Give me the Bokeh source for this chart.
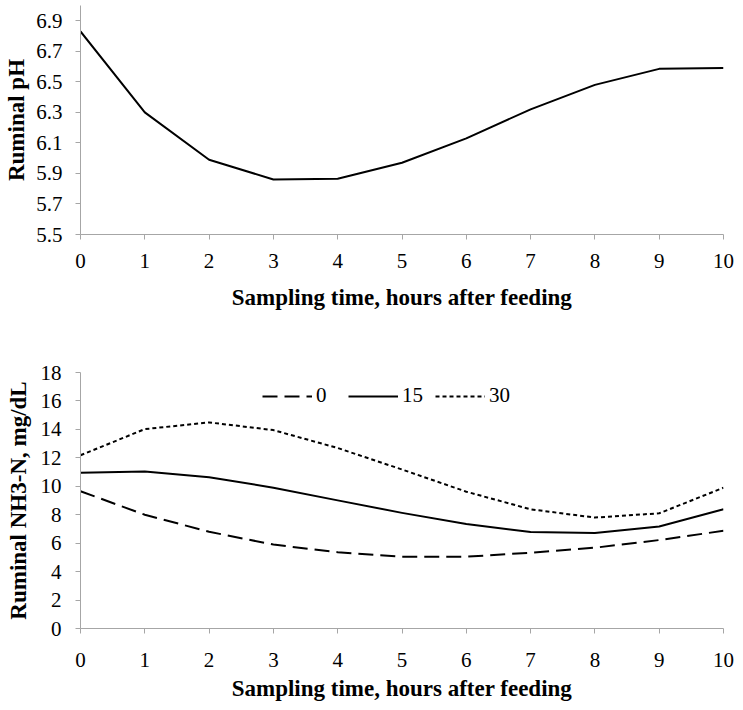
from bokeh.plotting import figure
from bokeh.layouts import column
from bokeh.models import Range1d, FixedTicker, Legend, LegendItem
from bokeh.embed import file_html
from bokeh.resources import INLINE

# ---- data ----
hours = [0, 1, 2, 3, 4, 5, 6, 7, 8, 9, 10]
ruminal_ph = [6.83, 6.30, 5.99, 5.86, 5.865, 5.97, 6.13, 6.32, 6.48, 6.585, 6.59]
ph_ticks = [5.5, 5.7, 5.9, 6.1, 6.3, 6.5, 6.7, 6.9]

nh3_0 = [9.65, 8.00, 6.80, 5.90, 5.36, 5.05, 5.05, 5.33, 5.68, 6.22, 6.87]
nh3_15 = [10.95, 11.04, 10.64, 9.90, 9.01, 8.13, 7.34, 6.78, 6.71, 7.17, 8.38]
nh3_30 = [12.18, 14.02, 14.49, 13.95, 12.69, 11.18, 9.62, 8.38, 7.80, 8.10, 9.90]
nh3_ticks = [0, 2, 4, 6, 8, 10, 12, 14, 16, 18]
series_labels = ["0", "15", "30"]

x_title = "Sampling time, hours after feeding"
ph_title = "Ruminal pH"
nh3_title = "Ruminal NH3-N, mg/dL"

FONT = "Liberation Serif"
AXIS_GRAY = "#a6a6a6"


def style_axes(p, x_label_standoff, x_title_standoff, y_label_standoff, y_title_standoff):
    p.outline_line_color = None
    p.xgrid.visible = False
    p.ygrid.visible = False
    for ax in (p.xaxis[0], p.yaxis[0]):
        ax.axis_line_color = AXIS_GRAY
        ax.major_tick_line_color = AXIS_GRAY
        ax.minor_tick_line_color = None
        ax.major_tick_in = 0
        ax.major_tick_out = 5
        ax.major_label_text_font = FONT
        ax.major_label_text_font_size = "21px"
        ax.major_label_text_color = "black"
        ax.axis_label_text_font = FONT
        ax.axis_label_text_font_style = "bold"
        ax.axis_label_text_font_size = "23px"
        ax.axis_label_text_color = "black"
    p.xaxis[0].major_label_standoff = x_label_standoff
    p.xaxis[0].axis_label_standoff = x_title_standoff
    p.yaxis[0].major_label_standoff = y_label_standoff
    p.yaxis[0].axis_label_standoff = y_title_standoff
    p.xaxis[0].ticker = FixedTicker(ticks=hours)


# ---- top chart: ruminal pH ----
p1 = figure(width=743, height=314, x_range=Range1d(0, 10), y_range=Range1d(5.5, 7.0),
            output_backend="svg", toolbar_location=None,
            min_border_left=80, min_border_right=20, min_border_top=5, min_border_bottom=80)
p1.line(hours, ruminal_ph, line_color="black", line_width=2, line_join="round")
style_axes(p1, 14, 14, 13, 4)
p1.yaxis[0].ticker = FixedTicker(ticks=ph_ticks)
p1.yaxis[0].major_label_overrides = {t: f"{t:.1f}" for t in ph_ticks}
p1.xaxis[0].axis_label = x_title
p1.yaxis[0].axis_label = ph_title

# ---- bottom chart: NH3-N ----
p2 = figure(width=743, height=396, x_range=Range1d(0, 10), y_range=Range1d(0, 18),
            output_backend="svg", toolbar_location=None,
            min_border_left=80, min_border_right=20, min_border_top=58, min_border_bottom=82)
r0 = p2.line(hours, nh3_0, line_color="black", line_width=2, line_dash="15 7")
r15 = p2.line(hours, nh3_15, line_color="black", line_width=2, line_join="round")
r30 = p2.line(hours, nh3_30, line_color="black", line_width=2, line_dash="4 3")
style_axes(p2, 19, 6, 14, 7)
p2.yaxis[0].ticker = FixedTicker(ticks=nh3_ticks)
p2.xaxis[0].axis_label = x_title
p2.yaxis[0].axis_label = nh3_title

legend = Legend(items=[LegendItem(label=series_labels[0], renderers=[r0]),
                       LegendItem(label=series_labels[1], renderers=[r15]),
                       LegendItem(label=series_labels[2], renderers=[r30])],
                orientation="horizontal", location=(182, 220))
legend.border_line_color = None
legend.background_fill_alpha = 0
legend.padding = 0
legend.margin = 0
legend.spacing = 12
legend.glyph_width = 50
legend.glyph_height = 20
legend.label_standoff = 4
legend.label_text_font = FONT
legend.label_text_font_size = "21px"
legend.label_text_color = "black"
p2.add_layout(legend)

layout = column(p1, p2, spacing=0)
open("out.html", "w").write(file_html(layout, INLINE))
